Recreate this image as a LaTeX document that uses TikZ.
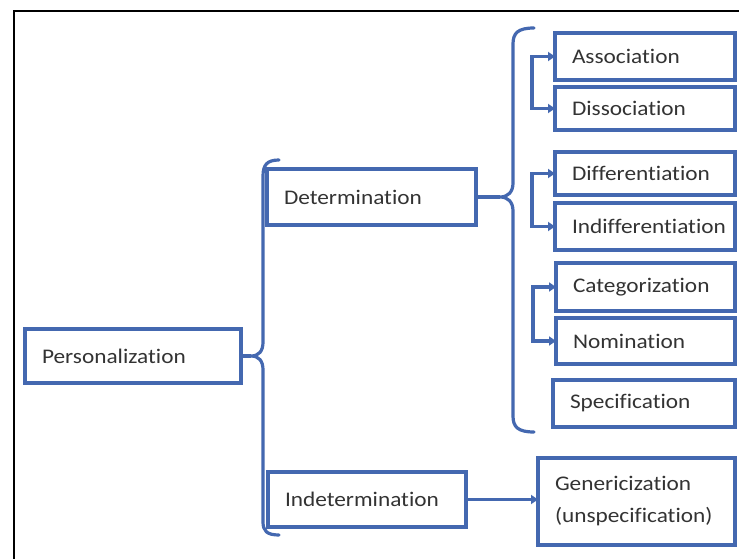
\documentclass[tikz,border=0pt]{standalone}
\usepackage{fontspec}
\setmainfont{Carlito}[FakeStretch=1.12, RawFeature={-liga;-dlig}]
\usetikzlibrary{arrows.meta}
\definecolor{lineblue}{HTML}{4468B0}
\definecolor{txt}{HTML}{333333}
\tikzset{
  box/.style={draw=lineblue, line width=3.5pt, anchor=north west, inner xsep=17pt, inner ysep=0pt,
              outer sep=0pt, align=left, text=txt, font=\fontsize{20.8}{32}\selectfont},
  conn/.style={draw=lineblue, line width=3.2pt},
  tip/.style={-{Triangle[length=7pt,width=9pt]}},
  btip/.style={{Triangle[length=7pt,width=9pt]}-{Triangle[length=7pt,width=9pt]}},
}
\newcommand{\bx}[7]{% name, left, top, right, bottom, text
  \node[box, minimum width={#4-#2}, minimum height={#5-#3}, text width={#4-#2-34}] (#1) at (#2,#3) {#6};}
\begin{document}
\begin{tikzpicture}[x=1pt,y=-1pt]
\useasboundingbox (0,0) rectangle (739,559);
\fill[white] (0,0) rectangle (739,559);
% frame
\draw[black, line width=2pt] (14,559) -- (14,11.5) -- (739,11.5);
% boxes
\bx{pers}{25}{329}{241}{383}{Personalization}{}
\bx{det}{267}{169}{476}{225}{Determination}{}
\bx{indet}{268}{472}{466}{527}{Indetermination}{}
\bx{assoc}{555}{33}{735}{80}{Association}{}
\bx{dissoc}{555}{87}{735}{130}{Dissociation}{}
\bx{diff}{555}{152}{735}{195}{Differentiation}{}
\bx{indiff}{555}{203}{735}{250}{Indifferentiation}{}
\bx{categ}{556}{263}{735}{311}{Categorization}{}
\bx{nomin}{556}{318}{735}{364}{Nomination}{}
\bx{spec}{553}{380}{735}{427}{Specification}{}
\bx{gener}{538}{458}{735}{545}{Genericization\\(unspecification)}{}
% left brace
\coordinate (lt) at (251,356);
\draw[conn] (pers.east) -- (lt);
\draw[conn, line cap=round] (279,160) .. controls (267,160) and (263,165) .. (263,176)
  -- (263,342) .. controls (263,351) and (259,356) .. (lt)
  .. controls (259,356) and (263,361) .. (263,370)
  -- (263,522) .. controls (263,531) and (267,535) .. (279,535);
% right brace
\coordinate (rt) at (500,197);
\draw[conn] (det.east) -- (rt);
\draw[conn, line cap=round] (534,28) .. controls (518,28) and (513,33) .. (513,44)
  -- (513,183) .. controls (513,192) and (508,197) .. (rt)
  .. controls (508,197) and (513,202) .. (513,211)
  -- (513,416) .. controls (513,427) and (518,432) .. (534,432);
% elbows
\draw[conn, btip] (assoc.west) -- ++(-23,0) |- (dissoc.west);
\draw[conn, btip] (diff.west) -- ++(-23,0) |- (indiff.west);
\draw[conn, btip] (categ.west) -- ++(-23,0) |- (nomin.west);
% indetermination arrow
\draw[conn, tip] (indet.east) -- (indet.east -| gener.west);
\end{tikzpicture}
\end{document}
